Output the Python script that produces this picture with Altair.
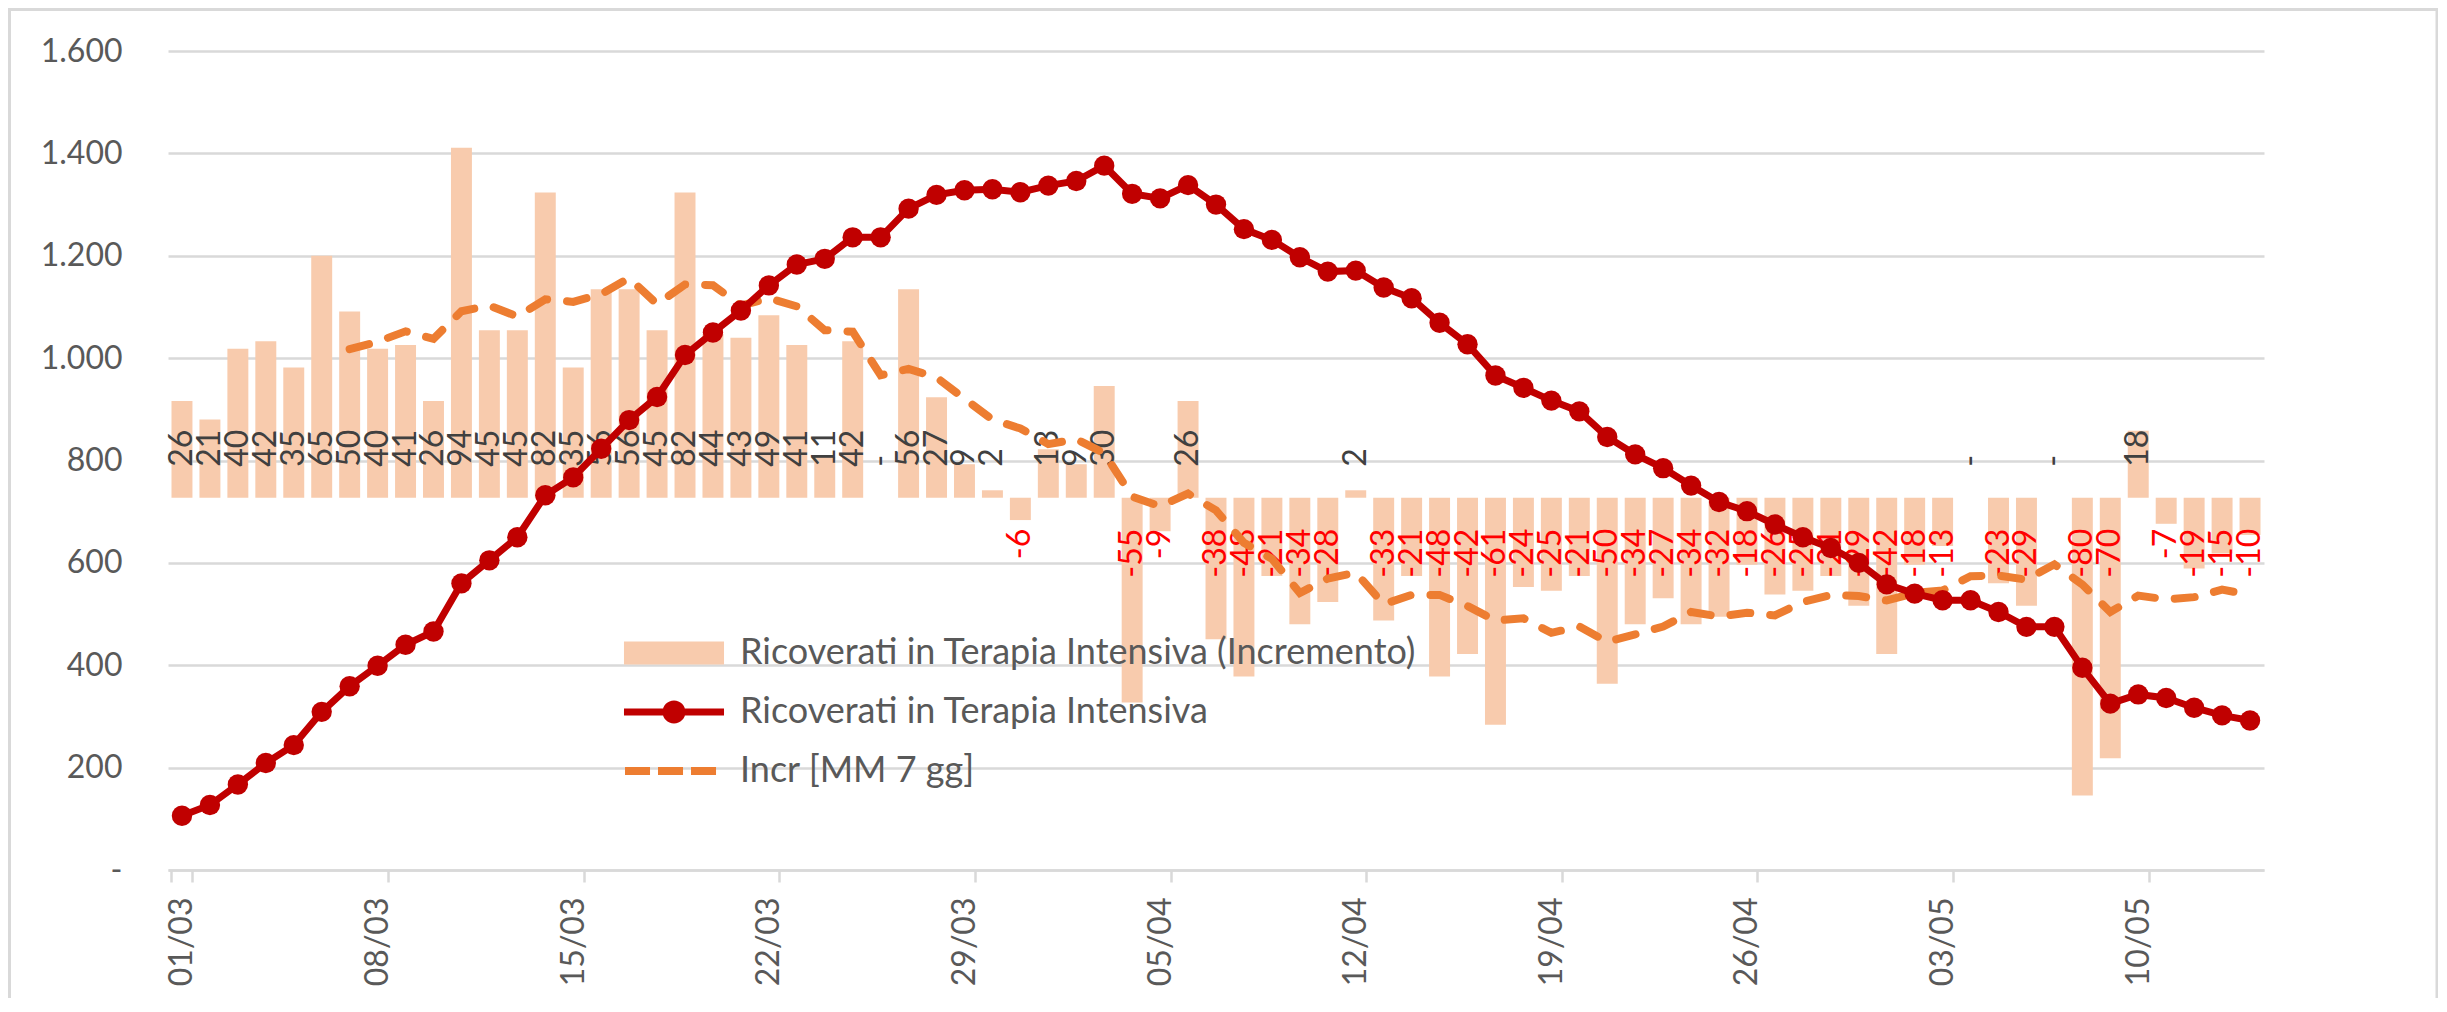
import altair as alt
import pandas as pd

# ---- data ----
dates = pd.date_range("2020-03-01", periods=75).strftime("%d/%m").tolist()
tick_dates = dates[::7]

ricoverati = [106, 127, 167, 209, 244, 309, 359, 399, 440, 466,
              560, 605, 650, 732, 767, 823, 879, 924, 1006, 1050,
              1093, 1142, 1183, 1194, 1236, 1236, 1292, 1319, 1328, 1330,
              1324, 1337, 1346, 1376, 1321, 1312, 1338, 1300, 1252, 1231,
              1197, 1169, 1171, 1138, 1117, 1069, 1027, 966, 942, 917,
              896, 846, 812, 785, 751, 719, 701, 675, 650, 629,
              600, 558, 540, 527, 527, 504, 475, 475, 395, 325,
              343, 336, 317, 302, 292]

incremento = [26, 21, 40, 42, 35, 65, 50, 40, 41, 26,
              94, 45, 45, 82, 35, 56, 56, 45, 82, 44,
              43, 49, 41, 11, 42, 0, 56, 27, 9, 2,
              -6, 13, 9, 30, -55, -9, 26, -38, -48, -21,
              -34, -28, 2, -33, -21, -48, -42, -61, -24, -25,
              -21, -50, -34, -27, -34, -32, -18, -26, -25, -21,
              -29, -42, -18, -13, 0, -23, -29, 0, -80, -70,
              18, -7, -19, -15, -10]

media_mobile = [None, None, None, None, None, None,
                39.9, 41.9, 44.7, 42.7, 50.1, 51.6, 48.7, 53.3, 52.6, 54.7,
                59.0, 52.0, 57.3, 57.1, 51.6, 53.6, 51.4, 45.0, 44.6, 32.9,
                34.6, 32.3, 26.6, 21.0, 18.6, 14.4, 15.7, 12.0, 0.3, -2.3,
                1.1, -3.4, -12.1, -16.4, -25.6, -21.7, -20.1, -28.6, -26.1, -26.1,
                -29.1, -33.0, -32.4, -36.3, -34.6, -38.7, -36.7, -34.6, -30.7, -31.9,
                -30.9, -31.6, -28.0, -26.1, -26.4, -27.6, -25.6, -24.9, -21.1, -20.9,
                -22.0, -17.9, -23.3, -30.7, -26.3, -27.3, -26.7, -24.7, -26.1]

series_names = ["Ricoverati in Terapia Intensiva (Incremento)",
                "Ricoverati in Terapia Intensiva",
                "Incr [MM 7 gg]"]
series_colors = ["#F8CBAD", "#C00000", "#ED7D31"]

df = pd.DataFrame({"d": dates, "tot": ricoverati, "inc": incremento, "ma": media_mobile})
legdf = pd.DataFrame({"s": series_names})
framedf = pd.DataFrame({"k": [0]})

FONT = "Lato"
FS = 32
GRAY = "#595959"
BORDER = "#D9D9D9"

X = alt.X("d:O",
          scale=alt.Scale(domain=dates, paddingInner=0.25, paddingOuter=0.125),
          axis=alt.Axis(values=tick_dates, title=None, labelAngle=270,
                        tickBand="extent", ticks=True, tickSize=12,
                        tickColor=BORDER, tickWidth=2.5,
                        domainColor=BORDER, domainWidth=2.5,
                        labelPadding=15, grid=False))

YR = alt.Scale(domain=[-100, 120], nice=False, zero=False)
YL = alt.Scale(domain=[0, 1600], nice=False)

right_axis = alt.Axis(orient="right", values=list(range(-100, 121, 20)), grid=False,
                      ticks=False, domain=False, labelPadding=44, title=None,
                      labelExpr="datum.value == 0 ? '-' : '' + datum.value",
                      labelColor={"condition": {"test": "datum.value < 0", "value": "#FF0000"},
                                  "value": GRAY})

left_axis = alt.Axis(orient="left", values=list(range(0, 1601, 200)), grid=True,
                     gridColor=BORDER, gridWidth=2.5, ticks=False, domain=False,
                     labelPadding=46, title=None,
                     labelExpr="datum.value == 0 ? '-' : replace(format(datum.value, ','), ',', '.')")

bars = alt.Chart(df).mark_bar(color="#F8CBAD").encode(
    x=X, y=alt.Y("inc:Q", scale=YR, axis=right_axis))

pos_lab = alt.Chart(df).transform_filter("datum.inc >= 0").transform_calculate(
    lab="datum.inc == 0 ? '-' : '' + datum.inc"
).mark_text(angle=270, align="left", baseline="middle", dx=31,
            color="#404040", font=FONT, fontSize=FS).encode(
    x=X, y=alt.YDatum(0, scale=YR, axis=None), text="lab:N")

neg_lab = alt.Chart(df).transform_filter("datum.inc < 0").transform_calculate(
    lab="'' + datum.inc"
).mark_text(angle=270, align="right", baseline="middle", dx=-31,
            color="#FF0000", font=FONT, fontSize=FS).encode(
    x=X, y=alt.YDatum(0, scale=YR, axis=None), text="lab:N")

ma_line = alt.Chart(df).mark_line(color="#ED7D31", strokeWidth=8,
                                  strokeDash=[20, 20], strokeCap="round").encode(
    x=X, y=alt.Y("ma:Q", scale=YR, axis=None))

right_group = alt.layer(bars, pos_lab, neg_lab, ma_line)

line = alt.Chart(df).mark_line(
    color="#C00000", strokeWidth=7,
    point=alt.OverlayMarkDef(filled=True, size=415, color="#C00000", opacity=1)
).encode(x=X, y=alt.Y("tot:Q", scale=YL, axis=left_axis))

# legend symbols (unit = sqrt(symbolSize)/2 = 41 px)
paths = [
    "M-1.22,-0.28H1.22V0.28H-1.22Z",
    "M-1.22,-0.085H1.22V0.085H-1.22Z M0.28,0A0.28,0.28,0,1,1,-0.28,0A0.28,0.28,0,1,1,0.28,0Z",
    "M-1.195,-0.098H-0.585V0.098H-1.195Z M-0.39,-0.098H0.22V0.098H-0.39Z M0.415,-0.098H1.025V0.098H0.415Z",
]

leg_def = alt.Legend(title=None, orient="none", legendX=456, legendY=561,
                     direction="vertical", symbolSize=6724, symbolStrokeWidth=0,
                     symbolOffset=9, symbolOpacity=1, labelOffset=25, rowPadding=-1,
                     labelFontSize=36, labelFont=FONT, labelColor=GRAY,
                     labelLimit=1000, padding=0)

legend_layer = alt.Chart(legdf).mark_point(filled=True, size=6724, opacity=0).encode(
    color=alt.Color("s:N", scale=alt.Scale(domain=series_names, range=series_colors), legend=leg_def),
    shape=alt.Shape("s:N", scale=alt.Scale(domain=series_names, range=paths), legend=leg_def),
)

left_group = alt.layer(line, legend_layer)

# chart frame (left, top and right edges)
frame_base = alt.Chart(framedf).mark_rule(color=BORDER, strokeWidth=3)
frame_left = frame_base.encode(x=alt.value(-158.5), y=alt.value(-41.5), y2=alt.value(1000))
frame_right = frame_base.encode(x=alt.value(2269), y=alt.value(-41.5), y2=alt.value(1000))
frame_top = frame_base.encode(x=alt.value(-160), x2=alt.value(2270.5), y=alt.value(-41.5))

chart = alt.layer(right_group, left_group, frame_left, frame_right, frame_top).resolve_scale(
    y="independent"
).properties(
    width=2096, height=819,
    padding={"left": 160, "top": 43, "right": 174, "bottom": 128},
    autosize=alt.AutoSizeParams(type="none"),
).configure_view(strokeWidth=0).configure_axis(
    labelFont=FONT, labelFontSize=FS, labelColor=GRAY
)

chart.save("out.html", embed_options={"renderer": "svg", "actions": False})
